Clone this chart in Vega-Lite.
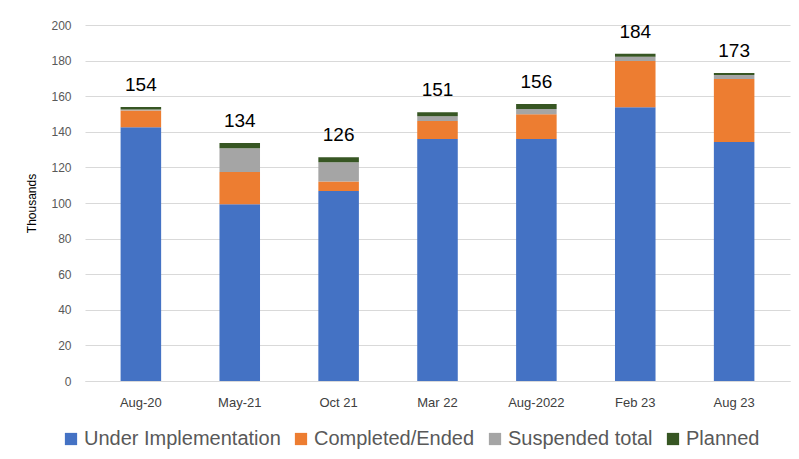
{
  "$schema": "https://vega.github.io/schema/vega-lite/v6.json",
  "autosize": {"type": "none"},
  "width": 705,
  "height": 356,
  "padding": {"left": 85, "top": 25, "right": 9, "bottom": 78},
  "background": "white",
  "config": {
    "font": "Liberation Sans",
    "view": {"stroke": null},
    "axis": {"labelColor": "#595959", "labelFontSize": 12, "ticks": false, "gridColor": "#d9d9d9", "gridWidth": 1}
  },
  "data": {
    "values": [
      {"period": "Aug-20", "status": "Under Implementation", "k": 1, "value": 142.5},
      {"period": "Aug-20", "status": "Completed/Ended", "k": 2, "value": 9.5},
      {"period": "Aug-20", "status": "Suspended total", "k": 3, "value": 0.5},
      {"period": "Aug-20", "status": "Planned", "k": 4, "value": 1.5},
      {"period": "May-21", "status": "Under Implementation", "k": 1, "value": 99.3},
      {"period": "May-21", "status": "Completed/Ended", "k": 2, "value": 18.1},
      {"period": "May-21", "status": "Suspended total", "k": 3, "value": 13.3},
      {"period": "May-21", "status": "Planned", "k": 4, "value": 3.0},
      {"period": "Oct 21", "status": "Under Implementation", "k": 1, "value": 106.7},
      {"period": "Oct 21", "status": "Completed/Ended", "k": 2, "value": 5.4},
      {"period": "Oct 21", "status": "Suspended total", "k": 3, "value": 10.8},
      {"period": "Oct 21", "status": "Planned", "k": 4, "value": 2.8},
      {"period": "Mar 22", "status": "Under Implementation", "k": 1, "value": 136.0},
      {"period": "Mar 22", "status": "Completed/Ended", "k": 2, "value": 10.0},
      {"period": "Mar 22", "status": "Suspended total", "k": 3, "value": 2.8},
      {"period": "Mar 22", "status": "Planned", "k": 4, "value": 2.2},
      {"period": "Aug-2022", "status": "Under Implementation", "k": 1, "value": 136.0},
      {"period": "Aug-2022", "status": "Completed/Ended", "k": 2, "value": 13.8},
      {"period": "Aug-2022", "status": "Suspended total", "k": 3, "value": 3.0},
      {"period": "Aug-2022", "status": "Planned", "k": 4, "value": 2.8},
      {"period": "Feb 23", "status": "Under Implementation", "k": 1, "value": 153.8},
      {"period": "Feb 23", "status": "Completed/Ended", "k": 2, "value": 26.0},
      {"period": "Feb 23", "status": "Suspended total", "k": 3, "value": 2.4},
      {"period": "Feb 23", "status": "Planned", "k": 4, "value": 1.7},
      {"period": "Aug 23", "status": "Under Implementation", "k": 1, "value": 134.3},
      {"period": "Aug 23", "status": "Completed/Ended", "k": 2, "value": 35.4},
      {"period": "Aug 23", "status": "Suspended total", "k": 3, "value": 2.2},
      {"period": "Aug 23", "status": "Planned", "k": 4, "value": 1.1}
    ]
  },
  "encoding": {
    "x": {
      "field": "period", "type": "nominal",
      "sort": ["Aug-20", "May-21", "Oct 21", "Mar 22", "Aug-2022", "Feb 23", "Aug 23"],
      "scale": {"paddingInner": 0.59, "paddingOuter": 0.36},
      "axis": {"title": null, "labelAngle": 0, "labelPadding": 15, "labelFontSize": 13, "domain": true, "domainColor": "#d9d9d9", "labelColor": "#404040"}
    }
  },
  "layer": [
    {
      "mark": {"type": "bar"},
      "encoding": {
        "y": {
          "field": "value", "type": "quantitative", "aggregate": "sum", "stack": "zero",
          "scale": {"domain": [0, 200]},
          "axis": {"title": "Thousands", "titleFontSize": 12, "titleFontWeight": "normal", "titleColor": "#000000", "titlePadding": 12, "values": [0,20,40,60,80,100,120,140,160,180,200], "labelOverlap": false, "labelPadding": 14, "domain": false}
        },
        "color": {
          "field": "status", "type": "nominal",
          "scale": {
            "domain": ["Under Implementation", "Completed/Ended", "Suspended total", "Planned"],
            "range": ["#4472C4", "#ED7D31", "#A5A5A5", "#375623"]
          },
          "legend": {
            "title": null, "orient": "none", "direction": "horizontal",
            "legendX": -24, "legendY": 404,
            "symbolType": "square", "symbolSize": 150, "symbolStrokeWidth": 0,
            "labelFontSize": 20, "labelColor": "#595959", "labelLimit": 400, "columnPadding": 10, "labelOffset": 3
          }
        },
        "order": {"field": "k", "type": "quantitative", "sort": "ascending"}
      }
    },
    {
      "transform": [{"aggregate": [{"op": "sum", "field": "value", "as": "total"}], "groupby": ["period"]}],
      "mark": {"type": "text", "dy": -22, "fontSize": 19, "color": "#000000"},
      "encoding": {
        "y": {"field": "total", "type": "quantitative",
          "axis": {"title": "Thousands", "titleFontSize": 12, "titleFontWeight": "normal", "titleColor": "#000000", "titlePadding": 12, "values": [0,20,40,60,80,100,120,140,160,180,200], "labelOverlap": false, "labelPadding": 14, "domain": false}},
        "text": {"field": "total", "type": "quantitative", "format": ".0f"}
      }
    }
  ]
}
